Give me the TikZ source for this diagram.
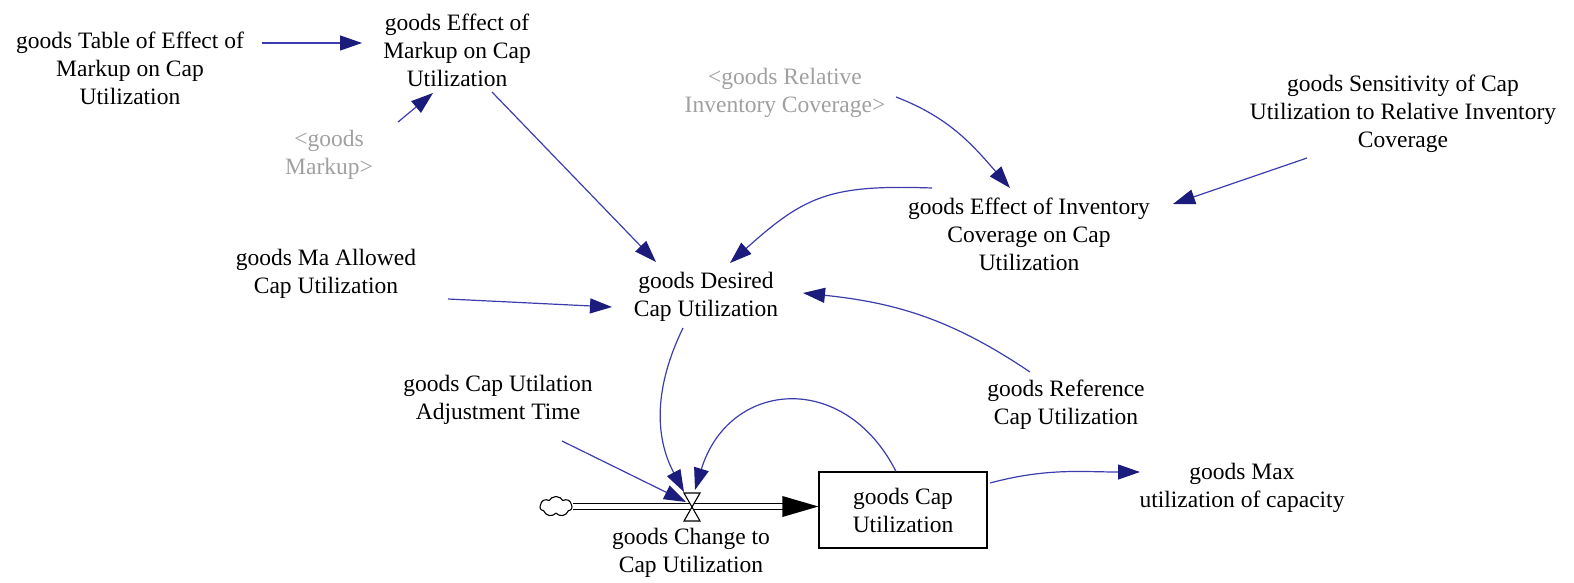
\documentclass[tikz,border=0pt]{standalone}
\usepackage{fontspec}
\setmainfont{Liberation Serif}
\newfontfamily\diagfont{Liberation Serif}
\usetikzlibrary{arrows.meta,calc,shapes.symbols}
\definecolor{linkblue}{RGB}{60,60,175}
\definecolor{headblue}{RGB}{28,28,125}
\definecolor{shadowgray}{RGB}{160,160,160}
\begin{document}
\begin{tikzpicture}[x=1pt,y=-1pt,
  every node/.style={font=\diagfont\fontsize{23.5}{28}\selectfont},
  txt/.style={align=center,inner sep=0pt},
  shadow/.style={txt,text=shadowgray},
  link/.style={draw=linkblue,line width=1.2pt,
    -{Triangle[length=22pt,width=15pt,color=headblue]}},
  stockbox/.style={draw=black,line width=1.2pt,minimum width=168pt,minimum height=76pt,inner sep=0pt,align=center},
  pipe/.style={draw=black,double=white,double distance=5pt,line width=1.2pt},
]
\useasboundingbox (0,0) rectangle (1574,582);

% variables
\node[txt] (tbl) at (130,68) {goods Table of Effect of\\Markup on Cap\\Utilization};
\node[txt] (em) at (457,50) {goods Effect of\\Markup on Cap\\Utilization};
\node[shadow] (mk) at (329,155) {<goods\\Markup>};
\node[shadow] (rel) at (785,93) {<goods Relative\\Inventory Coverage>};
\node[txt] (sens) at (1403,114) {goods Sensitivity of Cap\\Utilization to Relative Inventory\\Coverage};
\node[txt] (eic) at (1029,234) {goods Effect of Inventory\\Coverage on Cap\\Utilization};
\node[txt] (ma) at (326,274) {goods Ma Allowed\\Cap Utilization};
\node[txt] (des) at (706,297) {goods Desired\\Cap Utilization};
\node[txt] (adj) at (498,400) {goods Cap Utilation\\Adjustment Time};
\node[txt] (ref) at (1066,405) {goods Reference\\Cap Utilization};
\node[txt] (max) at (1242,488) {goods Max\\utilization of capacity};

% stock, cloud, flow
\node[stockbox] (stock) at (903,510) {goods Cap\\Utilization};
\node[cloud,cloud puffs=7,cloud puff arc=120,draw=black,line width=1.1pt,fill=white,
      minimum width=32pt,minimum height=20pt,inner sep=0pt,aspect=1.6] (cloud) at (556,506.5) {};
\coordinate (pipeend) at ($(stock.west |- cloud.east)+(-34,0)$);
\draw[pipe] (cloud.east) -- (pipeend);
\fill[black] (stock.west |- cloud.east) -- ++(-36,-10.5) -- ++(0,21) -- cycle;
\coordinate (valve) at (692,507);
\filldraw[fill=white,draw=black,line width=1.1pt]
  ($(valve)+(-8,-14)$) -- ($(valve)+(8,-14)$) -- (valve) -- cycle
  ($(valve)+(-8,14)$) -- ($(valve)+(8,14)$) -- (valve) -- cycle;
\node[txt] (vlabel) at (691,553) {goods Change to\\Cap Utilization};

% links
\draw[link] ($(tbl)+(132,-25)$) -- ($(em)+(-95,-7)$);
\draw[link] ($(mk)+(69,-33)$) -- ($(em)+(-24,43)$);
\draw[link] ($(em)+(35,42)$) -- ($(des)+(-50,-35)$);
\draw[link] ($(rel)+(111,4)$) to[out=-21,in=131] ($(eic)+(-19,-46)$);
\draw[link] ($(sens)+(-96,44)$) -- ($(eic)+(144,-30)$);
\draw[link] ($(eic)+(-97,-46)$) to[out=178,in=42,looseness=1.2] ($(des)+(24,-34)$);
\draw[link] ($(ma)+(122,25)$) -- ($(des)+(-94,10)$);
\draw[link] ($(ref)+(-36,-33)$) to[out=146,in=-6] ($(des)+(97,-4)$);
\draw[link] ($(des)+(-23,31)$) to[out=244,in=118] ($(valve)+(-8,-15)$);
\draw[link] ($(adj)+(64,41)$) -- ($(valve)+(-6,-5)$);
\draw[link] ($(stock.north)+(-7,0)$) to[out=117,in=73,looseness=1.45] ($(valve)+(3,-17)$);
\draw[link] ($(stock)+(87,-27)$) to[out=15,in=180] ($(max)+(-102,-16)$);
\end{tikzpicture}
\end{document}
